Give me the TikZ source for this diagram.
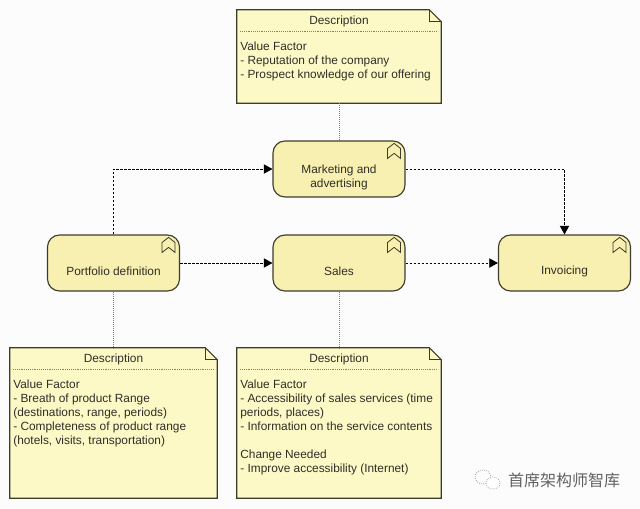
\documentclass[tikz,border=0pt]{standalone}
\usepackage{fontspec}
\setmainfont{Liberation Sans}
\newfontfamily\cjkfont{Noto Sans CJK SC}
\usetikzlibrary{arrows.meta}
\definecolor{notefill}{HTML}{FDF9C6}
\definecolor{procfill}{HTML}{F8F0B0}
\definecolor{edgecol}{HTML}{3C3C2C}
\definecolor{inkcol}{HTML}{2E2E28}
\tikzset{
	procbox/.style={draw=edgecol, fill=procfill, line width=0.85pt, rounded corners=9pt, minimum width=99pt, minimum height=42pt, inner sep=0pt},
	proctext/.style={text=inkcol, align=center, font=\fontsize{8.9}{10.5}\selectfont, inner sep=0pt},
	notebox/.style={inner sep=0pt},
	notetext/.style={text=inkcol, align=left, anchor=north west, inner sep=0pt, font=\fontsize{8.9}{10.5}\selectfont},
	notehead/.style={text=inkcol, inner sep=0pt, font=\fontsize{8.9}{10.5}\selectfont},
	flow/.style={dash pattern=on 2pt off 1pt, line width=0.7pt, black, -{Triangle[length=6.5pt,width=7pt]}},
	assoc/.style={densely dotted, line width=0.5pt, gray},
}
\begin{document}
\begin{tikzpicture}[x=0.75pt, y=-0.75pt]
	\fill[white!99!black] (0,0) rectangle (640,508);
	\useasboundingbox (0,0) rectangle (640,508);
	% notes
	\foreach \n/\cx/\cy/\w/\h in {notetop/339/56.5/204/93, noteleft/113.5/423/207/150, notemid/339/423/204/150} {
		\node[notebox, minimum width=\w*0.75pt, minimum height=\h*0.75pt] (\n) at (\cx,\cy) {};
		\draw[edgecol, fill=notefill, line width=0.8pt] (\n.north west) -- ([xshift=-9pt]\n.north east) -- ([yshift=-9pt]\n.north east) -- (\n.south east) -- (\n.south west) -- cycle;
		\draw[edgecol, line width=0.6pt] ([xshift=-9pt]\n.north east) -- ([xshift=-9pt,yshift=-9pt]\n.north east) -- ([yshift=-9pt]\n.north east);
		\node[notehead] (\n head) at ([yshift=-8.8pt]\n.north) {Description};
		\draw[densely dotted, gray, line width=0.4pt] ([xshift=2.5pt,yshift=-16.5pt]\n.north west) -- ([xshift=-2.5pt,yshift=-16.5pt]\n.north east);
	}
	\node[notetext] (notetopbody) at ([xshift=2.5pt,yshift=-23.6pt]notetop.north west) {Value Factor\\- Reputation of the company\\- Prospect knowledge of our offering};
	\node[notetext] (noteleftbody) at ([xshift=2.5pt,yshift=-23.6pt]noteleft.north west) {Value Factor\\- Breath of product Range\\(destinations, range, periods)\\- Completeness of product range\\(hotels, visits, transportation)};
	\node[notetext] (notemidbody) at ([xshift=2.5pt,yshift=-23.6pt]notemid.north west) {Value Factor\\- Accessibility of sales services (time\\periods, places)\\- Information on the service contents\\[10.5pt]Change Needed\\- Improve accessibility (Internet)};
	% processes
	\foreach \n/\cx/\cy/\t in {marketing/339/169/{Marketing and\\advertising}, portfolio/113.5/263/{Portfolio definition}, sales/339/263/{Sales}, invoicing/564.5/263/{Invoicing}} {
		\node[procbox] (\n) at (\cx,\cy) {};
		\node[proctext] (\n text) at ([yshift=-6.2pt]\n.center) {\t};
		\draw[edgecol, line width=0.6pt, fill=procfill] ([xshift=-13.5pt,yshift=-6pt]\n.north east) -- ([xshift=-8.6pt,yshift=-2.2pt]\n.north east) -- ([xshift=-3.8pt,yshift=-6pt]\n.north east) -- ([xshift=-3.8pt,yshift=-13.5pt]\n.north east) -- ([xshift=-8.6pt,yshift=-9.7pt]\n.north east) -- ([xshift=-13.5pt,yshift=-13.5pt]\n.north east) -- cycle;
	}
	\draw[assoc] (notetop) -- (marketing);
	\draw[assoc] (portfolio) -- (noteleft);
	\draw[assoc] (sales) -- (notemid);
	\draw[flow] (portfolio) |- (marketing);
	\draw[flow] (marketing) -| (invoicing);
	\draw[flow] (portfolio) -- (sales);
	\draw[flow] (sales) -- (invoicing);
	% watermark
	\node[text=black!62, inner sep=0pt, font=\cjkfont\fontsize{12}{14}\selectfont] (mark) at (564,480) {首席架构师智库};
	\draw[black!35, densely dotted, line width=0.6pt] (483,477) ellipse (8 and 7);
	\draw[black!35, densely dotted, line width=0.6pt, fill=white] (493,483) ellipse (7 and 6);
\end{tikzpicture}
\end{document}
